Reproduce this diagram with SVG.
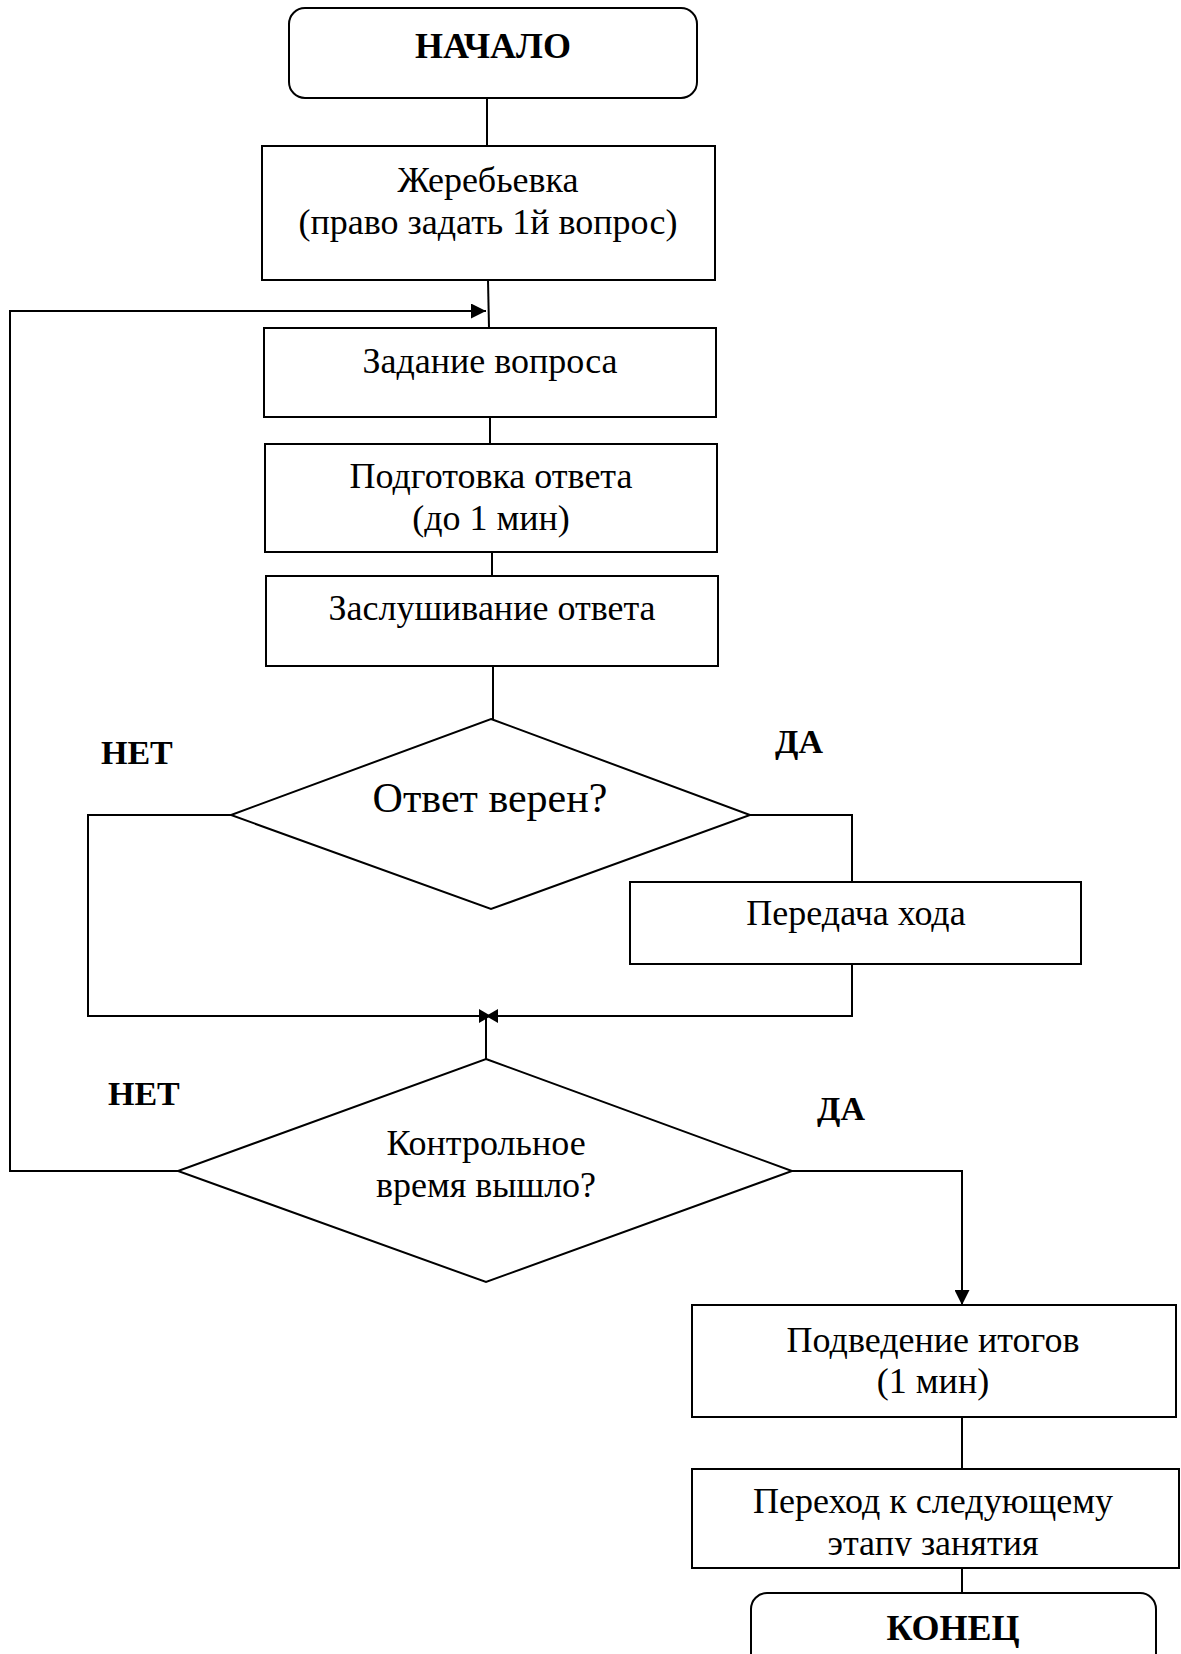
<svg xmlns="http://www.w3.org/2000/svg" width="1181" height="1654" viewBox="0 0 1181 1654">
  <style>
    .box { fill: #fff; stroke: #000; stroke-width: 2; }
    .t { font-family: "Liberation Serif", "Times New Roman", serif; font-size: 36px; fill: #000; text-anchor: middle; }
    .b { font-weight: bold; }
    .big { font-size: 42px; }
    .lbl { font-family: "Liberation Serif", "Times New Roman", serif; font-size: 34px; font-weight: bold; fill: #000; }
    .ln { fill: none; stroke: #000; stroke-width: 2; }
  </style>
  <defs>
    <marker id="arr" viewBox="0 0 15 15" refX="15" refY="7.5" markerWidth="15" markerHeight="15" markerUnits="userSpaceOnUse" orient="auto">
      <path d="M0,0 L15,7.5 L0,15 Z" fill="#000"/>
    </marker>
    <marker id="arrS" viewBox="0 0 12 14" refX="12" refY="7" markerWidth="12" markerHeight="14" markerUnits="userSpaceOnUse" orient="auto">
      <path d="M0,0 L12,7 L0,14 Z" fill="#000"/>
    </marker>
    <clipPath id="clipNext">
      <rect x="692" y="1469" width="487" height="87"/>
    </clipPath>
  </defs>
  <rect width="1181" height="1654" fill="#fff"/>

  <!-- connectors -->
  <g id="connectors">
    <line class="ln" x1="487" y1="98" x2="487" y2="146"/>
    <line class="ln" x1="488" y1="280" x2="489" y2="328"/>
    <line class="ln" x1="490" y1="417" x2="490" y2="444"/>
    <line class="ln" x1="492" y1="552" x2="492" y2="576"/>
    <line class="ln" x1="493" y1="666" x2="493" y2="719"/>
    <!-- "no" branch of the answer check -->
    <polyline class="ln" points="231,815 88,815 88,1016 491,1016" marker-end="url(#arrS)"/>
    <!-- "yes" branch: hand over the turn -->
    <polyline class="ln" points="750,815 852,815 852,882"/>
    <polyline class="ln" points="852,964 852,1016 486,1016" marker-end="url(#arrS)"/>
    <line class="ln" x1="486" y1="1016" x2="486" y2="1059"/>
    <!-- loop back to the next question -->
    <polyline class="ln" points="178,1171 10,1171 10,311 486,311" marker-end="url(#arr)"/>
    <!-- time is up -->
    <polyline class="ln" points="792,1171 962,1171 962,1305" marker-end="url(#arr)"/>
    <line class="ln" x1="962" y1="1417" x2="962" y2="1469"/>
    <line class="ln" x1="962" y1="1568" x2="962" y2="1593"/>
  </g>

  <g id="start">
    <rect class="box" x="289" y="8" width="408" height="90" rx="16"/>
    <text class="t b" x="493" y="58">НАЧАЛО</text>
  </g>

  <g id="draw">
    <rect class="box" x="262" y="146" width="453" height="134"/>
    <text class="t" x="488" y="192">Жеребьевка</text>
    <text class="t" x="488" y="234">(право задать 1й вопрос)</text>
  </g>

  <g id="ask">
    <rect class="box" x="264" y="328" width="452" height="89"/>
    <text class="t" x="490" y="373">Задание вопроса</text>
  </g>

  <g id="prepare">
    <rect class="box" x="265" y="444" width="452" height="108"/>
    <text class="t" x="491" y="488">Подготовка ответа</text>
    <text class="t" x="491" y="530">(до 1 мин)</text>
  </g>

  <g id="listen">
    <rect class="box" x="266" y="576" width="452" height="90"/>
    <text class="t" x="492" y="620">Заслушивание ответа</text>
  </g>

  <g id="check-answer">
    <polygon class="box" points="491,719 750,815 491,909 231,815"/>
    <text class="t big" x="490" y="812">Ответ верен?</text>
    <text class="lbl" x="101" y="764">НЕТ</text>
    <text class="lbl" x="775" y="753">ДА</text>
  </g>

  <g id="pass-turn">
    <rect class="box" x="630" y="882" width="451" height="82"/>
    <text class="t" x="856" y="925">Передача хода</text>
  </g>

  <g id="check-time">
    <polygon class="box" points="486,1059 792,1171 486,1282 178,1171"/>
    <text class="t" x="486" y="1155">Контрольное</text>
    <text class="t" x="486" y="1197">время вышло?</text>
    <text class="lbl" x="108" y="1105">НЕТ</text>
    <text class="lbl" x="817" y="1120">ДА</text>
  </g>

  <g id="summary">
    <rect class="box" x="692" y="1305" width="484" height="112"/>
    <text class="t" x="933" y="1352">Подведение итогов</text>
    <text class="t" x="933" y="1393">(1 мин)</text>
  </g>

  <g id="next-stage">
    <rect class="box" x="692" y="1469" width="487" height="99"/>
    <text class="t" x="933" y="1513">Переход к следующему</text>
    <text class="t" x="933" y="1555" clip-path="url(#clipNext)">этапу занятия</text>
  </g>

  <g id="end">
    <rect class="box" x="751" y="1593" width="405" height="90" rx="16"/>
    <text class="t b" x="953" y="1640">КОНЕЦ</text>
  </g>
</svg>
